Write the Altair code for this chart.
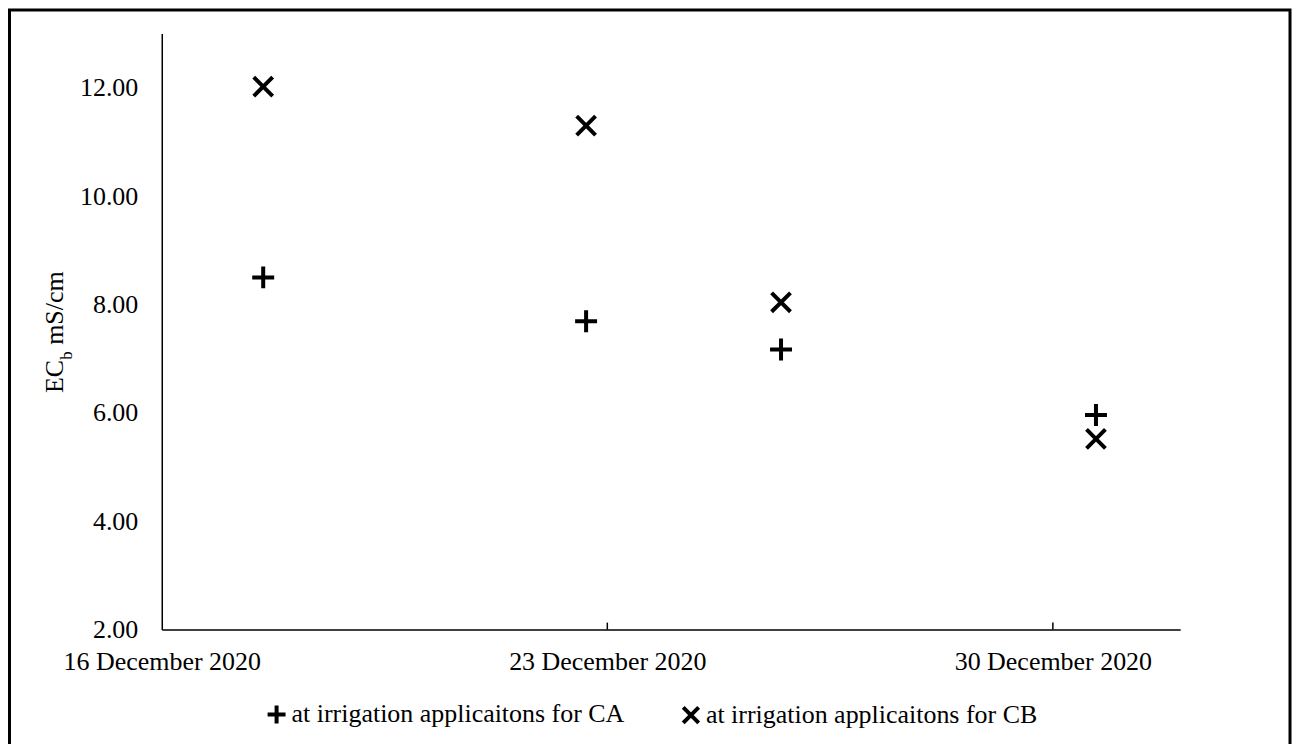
import altair as alt
import pandas as pd

# ---- data ----
dates = ["2020-12-17T14:15:00", "2020-12-22T16:00:00",
         "2020-12-25T17:30:00", "2020-12-30T16:15:00"]
ca_values = [8.50, 7.69, 7.17, 5.96]
cb_values = [12.02, 11.30, 8.04, 5.52]
series_names = ["at irrigation applicaitons for CA",
                "at irrigation applicaitons for CB"]
tick_dates = ["2020-12-23T00:00:00", "2020-12-30T00:00:00"]
y_ticks = [2, 4, 6, 8, 10, 12]

FONT = "Liberation Serif"
PLUS = "M-1,0L1,0M0,-1L0,1"
XMARK = "M-0.86,-0.86L0.86,0.86M-0.86,0.86L0.86,-0.86"

df = pd.DataFrame({
    "date": dates + dates,
    "value": ca_values + cb_values,
    "series": [series_names[0]] * len(dates) + [series_names[1]] * len(dates),
})
ticks_df = pd.DataFrame({"date": tick_dates})

x_scale = alt.Scale(domain=[alt.DateTime(year=2020, month=12, date=16),
                            alt.DateTime(year=2021, month=1, date=1)])
y_scale = alt.Scale(domain=[2, 13], nice=False, zero=False)

x_axis = alt.Axis(
    values=[alt.DateTime(year=2020, month=12, date=16),
            alt.DateTime(year=2020, month=12, date=23),
            alt.DateTime(year=2020, month=12, date=30)],
    format="%-d %B %Y", title=None, grid=False, ticks=False, tickSize=0,
    labelFont=FONT, labelFontSize=26, labelColor="black", labelPadding=19,
    labelFlush=False, labelOverlap=False, labelLimit=0,
    domainColor="black", domainWidth=1.5,
)
y_axis = alt.Axis(
    values=y_ticks, format=".2f", title=None, grid=False, ticks=False, tickSize=0,
    labelFont=FONT, labelFontSize=26, labelColor="black", labelPadding=24,
    labelLimit=0, domainColor="black", domainWidth=1.5,
)

points = alt.Chart(df).mark_point(
    filled=False, strokeWidth=4, size=484, color="black", opacity=1, strokeCap="butt"
).encode(
    x=alt.X("date:T", scale=x_scale, axis=x_axis),
    y=alt.Y("value:Q", scale=y_scale, axis=y_axis),
    shape=alt.Shape(
        "series:N",
        scale=alt.Scale(domain=series_names, range=[PLUS, XMARK]),
        legend=alt.Legend(
            orient="none", legendX=102, legendY=669, direction="horizontal",
            title=None, padding=0, labelFont=FONT, labelFontSize=26,
            labelColor="black", labelOffset=2, columnPadding=50, labelLimit=0,
            symbolSize=324, symbolStrokeWidth=4, symbolStrokeColor="black",
            symbolFillColor="transparent", symbolOpacity=1,
        ),
    ),
)

xticks = alt.Chart(ticks_df).mark_rule(color="black", strokeWidth=1.5).encode(
    x=alt.X("date:T", scale=x_scale),
    y=alt.value(590),
    y2=alt.value(597),
)

one = pd.DataFrame({"k": [0]})
border = alt.Chart(one).mark_rect(filled=False, color="black", strokeWidth=3).encode(
    x=alt.value(-152.5), x2=alt.value(1130), y=alt.value(-23.5), y2=alt.value(800)
)
t1 = alt.Chart(one).mark_text(text="EC", font=FONT, fontSize=26, angle=270,
                              align="left", baseline="alphabetic", color="black").encode(
    x=alt.value(-98.5), y=alt.value(360))
t2 = alt.Chart(one).mark_text(text="b", font=FONT, fontSize=17, angle=270,
                              align="left", baseline="alphabetic", color="black").encode(
    x=alt.value(-90), y=alt.value(326.8))
t3 = alt.Chart(one).mark_text(text="mS/cm", font=FONT, fontSize=26, angle=270,
                              align="left", baseline="alphabetic", color="black").encode(
    x=alt.value(-98.5), y=alt.value(311.8))

chart = alt.layer(border, xticks, points, t1, t2, t3).properties(
    width=1020, height=597,
    padding={"left": 154, "top": 25, "right": 112, "bottom": 114},
    autosize=alt.AutoSizeParams(type="none"),
    background="white",
).configure(
    font=FONT
).configure_axis(
    labelFont=FONT
).configure_legend(
    labelFont=FONT
).configure_view(stroke=None)

chart.save("out.html", embed_options={"renderer": "svg", "actions": False})
